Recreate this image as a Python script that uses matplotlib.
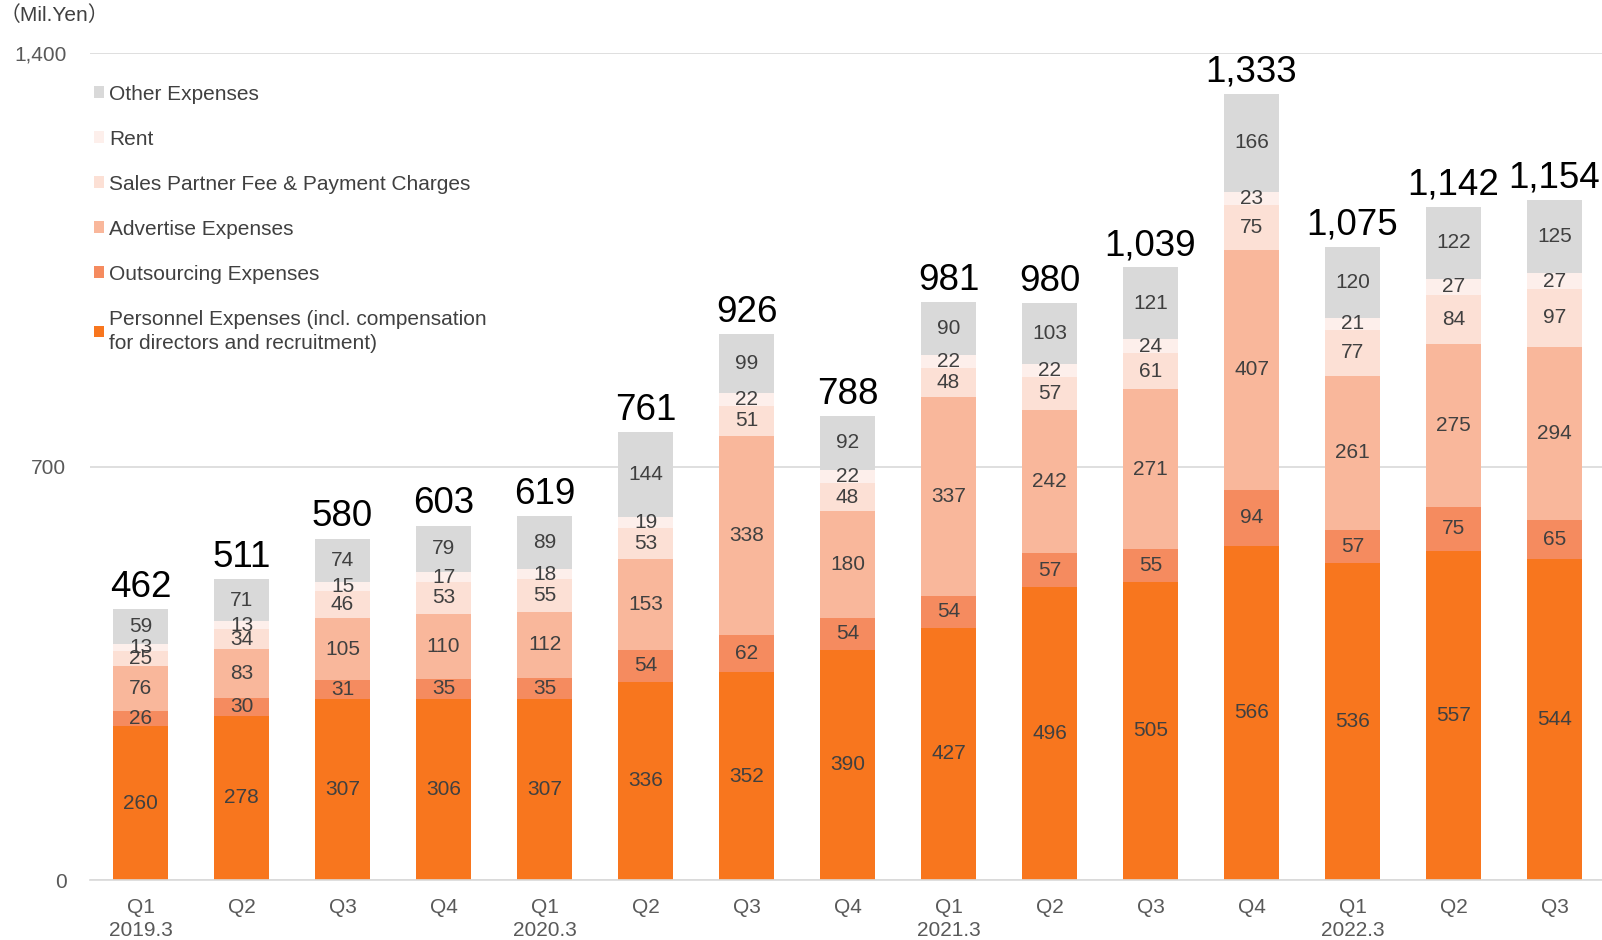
import matplotlib
matplotlib.use("Agg")
import matplotlib.pyplot as plt
from matplotlib.patches import Patch
import numpy as np

plt.rcParams['font.family'] = ['Liberation Sans', 'Noto Sans CJK JP', 'DejaVu Sans']

quarters = ["Q1\n2019.3", "Q2", "Q3", "Q4", "Q1\n2020.3", "Q2", "Q3", "Q4",
            "Q1\n2021.3", "Q2", "Q3", "Q4", "Q1\n2022.3", "Q2", "Q3"]
personnel = [260, 278, 307, 306, 307, 336, 352, 390, 427, 496, 505, 566, 536, 557, 544]
outsourcing = [26, 30, 31, 35, 35, 54, 62, 54, 54, 57, 55, 94, 57, 75, 65]
advertise = [76, 83, 105, 110, 112, 153, 338, 180, 337, 242, 271, 407, 261, 275, 294]
sales_partner = [25, 34, 46, 53, 55, 53, 51, 48, 48, 57, 61, 75, 77, 84, 97]
rent = [13, 13, 15, 17, 18, 19, 22, 22, 22, 22, 24, 23, 21, 27, 27]
other = [59, 71, 74, 79, 89, 144, 99, 92, 90, 103, 121, 166, 120, 122, 125]
totals = [462, 511, 580, 603, 619, 761, 926, 788, 981, 980, 1039, 1333, 1075, 1142, 1154]

series = [
    ("Personnel Expenses (incl. compensation\nfor directors and recruitment)", personnel, "#F8761E"),
    ("Outsourcing Expenses", outsourcing, "#F58B5F"),
    ("Advertise Expenses", advertise, "#F9B79B"),
    ("Sales Partner Fee & Payment Charges", sales_partner, "#FCE0D5"),
    ("Rent", rent, "#FDEFEB"),
    ("Other Expenses", other, "#D9D9D9"),
]

fig = plt.figure(figsize=(16.02, 9.4), dpi=100)
ax = fig.add_axes([0.0562, 0.0638, 0.9438, 0.8798])

x = np.arange(len(quarters))
bottom = np.zeros(len(quarters))
for name, vals, col in series:
    vals = np.array(vals, dtype=float)
    ax.bar(x, vals, 0.55, bottom=bottom, color=col, zorder=2)
    for xi, b, v in zip(x, bottom, vals):
        ax.text(xi, b + v / 2, f"{int(v)}", ha="center", va="center",
                fontsize=15, color="#404040", zorder=3)
    bottom += vals

for xi, top, t in zip(x, bottom, totals):
    ax.annotate(f"{t:,}", (xi, top), xytext=(0, 3), textcoords="offset points",
                ha="center", va="bottom", fontsize=26.5, color="black")

ax.set_xlim(-0.5, 14.47)
ax.set_ylim(0, 1400)
ax.set_yticks([0, 700, 1400])
ax.set_yticklabels(["0", "700", "1,400"])
ax.set_xticks(x)
ax.set_xticklabels(quarters, fontsize=15, color="#595959", linespacing=1.25)
ax.tick_params(axis="y", labelsize=15, labelcolor="#595959", length=0, pad=17)
ax.tick_params(axis="x", length=0, pad=13)
ax.grid(axis="y", color="#D9D9D9", linewidth=1.2, zorder=0)
for s in ["top", "right", "left"]:
    ax.spines[s].set_visible(False)
ax.spines["bottom"].set_color("#D9D9D9")
ax.spines["bottom"].set_linewidth(1.2)

handles = [Patch(facecolor=c, edgecolor="none", label=n) for n, v, c in series[::-1]]
leg = ax.legend(handles=handles, loc="upper left", bbox_to_anchor=(-0.003, 0.972),
                frameon=False, fontsize=15, handlelength=0.5, handleheight=0.5,
                handletextpad=0.25, labelspacing=1.25, borderaxespad=0)
for t in leg.get_texts():
    t.set_color("#404040")
    t.set_linespacing(1.35)

fig.text(0.0, 0.994, "（Mil.Yen）", ha="left", va="top", fontsize=15, color="#404040")

fig.savefig("out.png", dpi=100)
